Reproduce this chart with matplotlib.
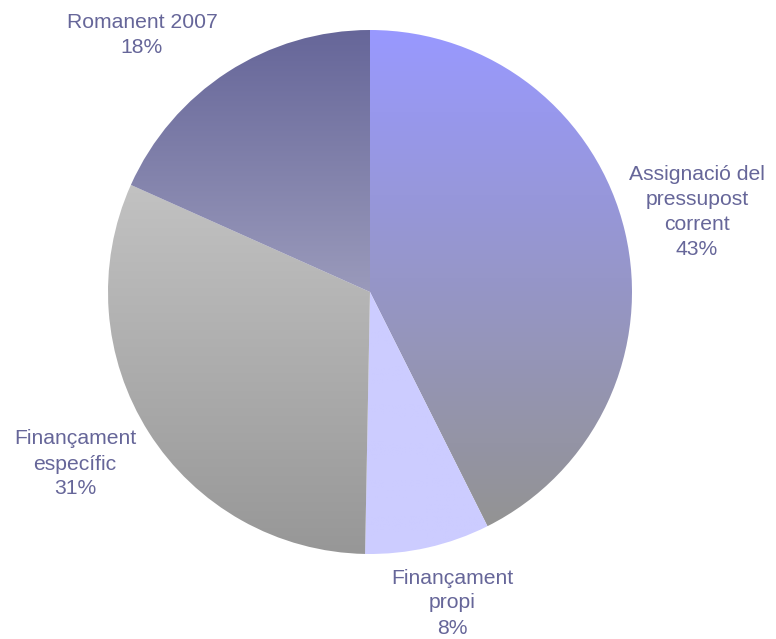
import numpy as np
import matplotlib.pyplot as plt
from matplotlib.colors import LinearSegmentedColormap

# Data (shares of total)
categories = ["Assignació del\npressupost\ncorrent", "Finançament\npropi",
              "Finançament\nespecífic", "Romanent 2007"]
shares = [42.6, 7.7, 31.4, 18.3]

# Vertical gradients (top colour, bottom colour) per slice
gradients = [("#9999FF", "#939393"), ("#CCCCFF", "#CCCCFF"),
             ("#C2C2C2", "#979797"), ("#666699", "#9A9ABB")]
labelPos = [(697, 212), (452, 603), (75, 464), (142, 35)]
TEXT_COLOUR = "#666699"

W, H = 776, 639
CX, CY, R = 370, 292, 262

plt.rcParams["font.family"] = ["Liberation Sans", "DejaVu Sans"]
fig = plt.figure(figsize=(W / 100, H / 100), dpi=100)
ax = fig.add_axes([0, 0, 1, 1])

wedges, _ = ax.pie(shares, startangle=90, counterclock=False,
                   center=(CX, H - CY), radius=R,
                   wedgeprops=dict(linewidth=0, edgecolor="none"))
ax.set_xlim(0, W)
ax.set_ylim(0, H)
ax.set_aspect("auto")
ax.axis("off")

for w, (top, bot) in zip(wedges, gradients):
    w.set_facecolor("none")
    ext = w.get_path().get_extents(w.get_transform() + ax.transData.inverted())
    cmap = LinearSegmentedColormap.from_list("g", [bot, top])
    grad = np.linspace(0, 1, 256).reshape(-1, 1)
    im = ax.imshow(grad, cmap=cmap, origin="lower", aspect="auto",
                   extent=(ext.x0, ext.x1, ext.y0, ext.y1), zorder=1)
    im.set_clip_path(w)

ax.set_xlim(0, W)
ax.set_ylim(0, H)

for cat, val, (x, y) in zip(categories, shares, labelPos):
    ax.text(x, H - y, f"{cat}\n{val:.0f}%", ha="center", va="center",
            fontsize=15.2, color=TEXT_COLOUR, linespacing=1.4)

fig.savefig("out.png", dpi=100)
